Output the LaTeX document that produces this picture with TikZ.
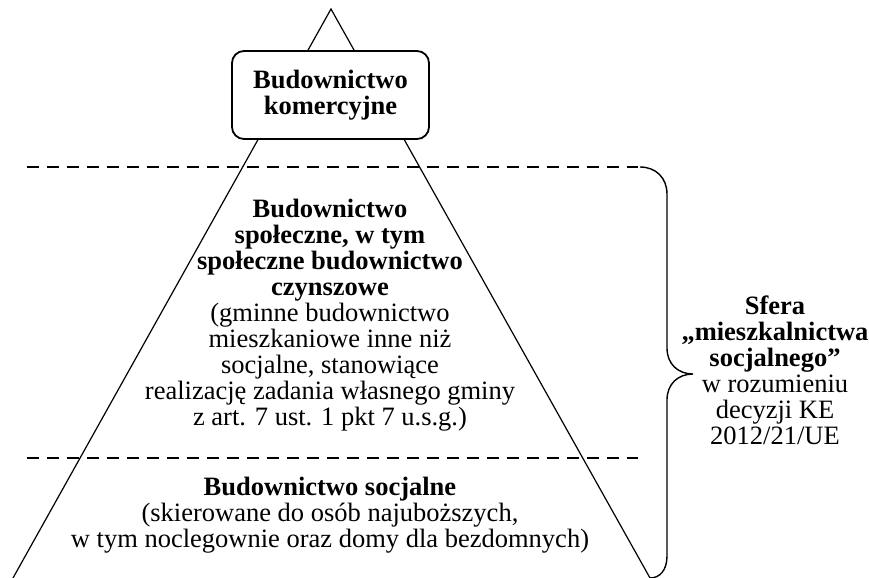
\documentclass[tikz,border=0pt]{standalone}
\usepackage{fontspec}
\setmainfont{Liberation Serif}
\usetikzlibrary{positioning}

\begin{document}
\begin{tikzpicture}[
        x=0.5pt, y=-0.5pt,
        font=\fontsize{13.25}{13}\selectfont,
        box/.style={
          draw,
          rounded corners=6pt,
          line width=0.9pt,
          fill=white,
          minimum width=98.5pt,
          minimum height=44pt,
          align=center,
          inner sep=4pt,
          font=\fontsize{13.25}{13}\selectfont\bfseries
        },
        txt/.style={align=center, inner sep=0pt},
        side/.style={line width=0.6pt},
        sep/.style={dash pattern=on 6.2pt off 3.8pt, line width=0.6pt},
        curly/.style={line width=0.7pt}
      ]
      \useasboundingbox (0,0) rectangle (869,578);

      % pyramid
      \coordinate (apex) at (331,9);
      \coordinate (bl) at (13,578);
      \coordinate (br) at (650,578);
      \draw[side] (bl) -- (apex) -- (br);

      % levels
      \coordinate (d1l) at (27,167);
      \coordinate (d1r) at (638,167);
      \coordinate (d2l) at (27,458);
      \coordinate (d2r) at (638,458);
      \draw[sep] (d1l) -- (d1r);
      \draw[sep] (d2l) -- (d2r);

      \node[box] (kom) at (330.5,95) {Budownictwo\\komercyjne};

      \node[txt] (spol) at (330,315) {\textbf{Budownictwo}\\\textbf{społeczne, w tym}\\\textbf{społeczne budownictwo}\\\textbf{czynszowe}\\(gminne budownictwo\\mieszkaniowe inne niż\\socjalne, stanowiące\\realizację zadania własnego gminy\\z art. 7 ust. 1 pkt 7 u.s.g.)};

      \node[txt] (soc) at (330,515) {\textbf{Budownictwo socjalne}\\(skierowane do osób najuboższych,\\w tym noclegownie oraz domy dla bezdomnych)};

      % brace
      \coordinate (bt) at (640,167);
      \coordinate (tip) at (693,374);
      \coordinate (bb) at (650,578);
      \draw[curly] (bt) .. controls (656,167) and (667,178) .. (667,194)
        -- (667,348) .. controls (667,364) and (678,374) .. (tip)
        .. controls (678,374) and (667,384) .. (667,400)
        -- (667,556) .. controls (667,570) and (660,578) .. (bb);

      \node[txt] (sfera) at (775,370) {\textbf{Sfera}\\\textbf{„mieszkalnictwa}\\\textbf{socjalnego”}\\w rozumieniu\\decyzji KE\\2012/21/UE};
    \end{tikzpicture}
\end{document}
